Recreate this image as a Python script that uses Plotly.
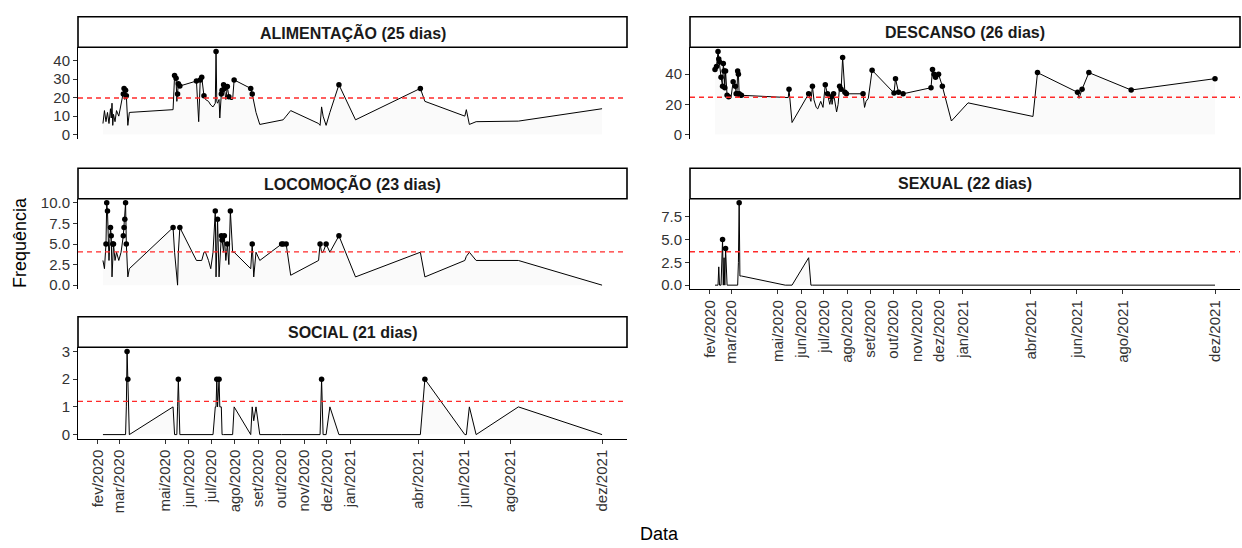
import pandas as pd
import plotly.graph_objects as go

# ---------------- data ----------------
datas = [
    "2020-02-08", "2020-02-10", "2020-02-12", "2020-02-13", "2020-02-14", "2020-02-16",
    "2020-02-18", "2020-02-19", "2020-02-20", "2020-02-21", "2020-02-22", "2020-02-24",
    "2020-02-26", "2020-02-29", "2020-03-03", "2020-03-06", "2020-03-07", "2020-03-08",
    "2020-03-09", "2020-03-10", "2020-03-11", "2020-03-12", "2020-03-14",
    "2020-05-11", "2020-05-13", "2020-05-15", "2020-05-16", "2020-05-17", "2020-05-18",
    "2020-05-20",
    "2020-06-11", "2020-06-14", "2020-06-16", "2020-06-18", "2020-06-21", "2020-06-23",
    "2020-06-27", "2020-06-30",
    "2020-07-03", "2020-07-06", "2020-07-07", "2020-07-08", "2020-07-09", "2020-07-11",
    "2020-07-12", "2020-07-14", "2020-07-15", "2020-07-17", "2020-07-18", "2020-07-20",
    "2020-07-22", "2020-07-24", "2020-07-26", "2020-07-29", "2020-07-31",
    "2020-08-22", "2020-08-24", "2020-08-26", "2020-08-29", "2020-09-03",
    "2020-10-02", "2020-10-04", "2020-10-08", "2020-10-14",
    "2020-11-20", "2020-11-22", "2020-11-24", "2020-11-26", "2020-11-30",
    "2020-12-05", "2020-12-17", "2021-01-08",
    "2021-04-04", "2021-04-10", "2021-06-02", "2021-06-04", "2021-06-08", "2021-06-17",
    "2021-08-12", "2021-12-01",
]

alimentacao = [
    6, 13, 7, 11, 12, 6, 14, 9, 17, 5, 11, 7, 13, 10, 16, 22, 25, 19, 24, 21, 15, 5, 12,
    13.5, 32, 30.5, 18, 22, 27.5, 26.3,
    29, 7, 29.5, 31, 21, 19, 18, 16,
    15, 17, 45, 18, 17, 19, 9, 22, 24, 27, 25, 19, 26, 20.5, 19, 19, 29.6,
    25, 22, 18, 12, 5.5,
    7.5, 8, 10, 13,
    6, 5, 15, 10, 5,
    12, 27, 8,
    25, 18, 10, 13.5, 5.5, 7,
    7.3, 14,
]

descanso = [
    43, 45, 55, 50, 48, 38, 32, 47, 42, 31, 42, 26, 25, 24, 35, 32, 27, 27, 42, 40, 27, 26, 26,
    24.5, 24.5, 24.5, 30, 24, 17, 8,
    27, 22, 32, 23, 18, 17, 22, 18,
    33, 27, 24, 22, 20, 25, 20, 27, 24, 18, 15, 20, 32, 30, 51, 28, 27,
    27, 18, 22, 24, 42.6,
    27.5, 37, 28, 27,
    31, 43, 40, 38, 40,
    32, 9, 21,
    12, 41, 28, 24, 30, 41,
    29.5, 37,
]

locomocao = [
    3, 2, 5, 10, 9, 3, 7, 6, 1, 5, 5, 3, 4, 3, 4, 6, 7, 8, 10, 5, 3, 1, 2,
    7, 4, 2, 1, 0, 4, 7,
    3, 3, 3, 3, 4, 4, 3, 2,
    4, 9, 1, 4, 8, 1, 3, 6, 5.5, 4, 6, 3, 5, 2.5, 9, 4, 4,
    2, 5, 1, 4, 3,
    5, 5, 5, 1.2,
    3, 5, 4, 4, 5,
    4, 6, 1,
    4, 1, 3, 3.5, 4, 3,
    3, 0,
]

sexual = [
    0, 0, 0, 2, 0, 0, 5, 0, 3, 0, 4, 0, 0, 0, 0, 0, 0, 0, 0, 2.5, 9, 1, 1,
    0, 0, 0, 0, 0, 0, 0,
    3, 0, 0, 0, 0, 0, 0, 0,
    0, 0, 0, 0, 0, 0, 0, 0, 0, 0, 0, 0, 0, 0, 0, 0, 0,
    0, 0, 0, 0, 0,
    0, 0, 0, 0,
    0, 0, 0, 0, 0,
    0, 0, 0,
    0, 0, 0, 0, 0, 0,
    0, 0,
]

social = [
    0, 0, 0, 0, 0, 0, 0, 0, 0, 0, 0, 0, 0, 0, 0, 0, 0, 0, 0, 1, 3, 2, 0,
    1, 0, 0, 0, 1, 2, 0,
    0, 0, 0, 0, 0, 0, 0, 0,
    0, 1, 1, 2, 1, 2, 1, 1, 0, 0, 0, 0, 0, 0, 0, 0, 1,
    0, 1, 0.5, 1, 0,
    0, 0, 0, 0,
    0, 0, 2, 0, 0,
    1, 0, 0,
    0, 2, 0, 0, 1, 0,
    1, 0,
]

comportamentos = ["ALIMENTAÇÃO", "DESCANSO", "LOCOMOÇÃO", "SEXUAL", "SOCIAL"]
series = [alimentacao, descanso, locomocao, sexual, social]
medias = [19.8, 24.7, 4.05, 3.65, 1.2]
dias = [25, 26, 23, 22, 21]

meses_pt = ["jan", "fev", "mar", "abr", "mai", "jun", "jul", "ago", "set", "out", "nov", "dez"]

# ---------------- layout geometry (pixels) ----------------
W, H = 1242, 548
COLS = {"L": (78, 627), "R": (690, 1240)}
ROWS = {1: (43, 136), 2: (197, 289), 3: (348, 441)}
STRIP_H = 31
# panel placement: (column, row, dtick, tickformat, show x axis)
placement = [
    ("L", 1, 10, None, False),
    ("R", 1, 20, None, False),
    ("L", 2, 2.5, ".1f", False),
    ("R", 2, 2.5, ".1f", True),
    ("L", 3, 1, None, True),
]

dates = pd.to_datetime(pd.Series(datas))
span = dates.max() - dates.min()
xrange = [dates.min() - 0.05 * span, dates.max() + 0.05 * span]
months = sorted(dates.dt.to_period("M").unique())
tickvals = [m.start_time for m in months]
ticktext = [f"{meses_pt[m.month - 1]}/{m.year}" for m in months]

FONT = "Liberation Sans, Arial, sans-serif"
TICK_SIZE = 15
fig = go.Figure()
layout = dict(
    width=W, height=H,
    margin=dict(l=0, r=0, t=0, b=0),
    paper_bgcolor="white", plot_bgcolor="white",
    showlegend=False,
    font=dict(family=FONT, color="#333333"),
)
shapes = []
annotations = []

for i, (nome, vals, media, nd, (col, row, dtick, fmt, showx)) in enumerate(
        zip(comportamentos, series, medias, dias, placement), start=1):
    xa = "x" if i == 1 else f"x{i}"
    ya = "y" if i == 1 else f"y{i}"
    x0, x1 = COLS[col]
    top, bot = ROWS[row]
    dom_x = [x0 / W, x1 / W]
    dom_y = [1 - bot / H, 1 - top / H]

    vmin, vmax = min(0, min(vals)), max(vals)
    vs = vmax - vmin
    yrange = [vmin - 0.05 * vs, vmax + 0.05 * vs]

    # area + line
    fig.add_trace(go.Scatter(
        x=dates, y=vals, mode="lines", xaxis=xa, yaxis=ya,
        line=dict(color="black", width=1),
        fill="tozeroy", fillcolor="rgba(0,0,0,0.02)",
        hoverinfo="skip",
    ))
    # points above the mean
    pts = [(d, v) for d, v in zip(dates, vals) if v > media]
    fig.add_trace(go.Scatter(
        x=[p[0] for p in pts], y=[p[1] for p in pts], mode="markers",
        xaxis=xa, yaxis=ya,
        marker=dict(color="black", size=5.5),
        hoverinfo="skip",
    ))
    # mean line
    shapes.append(dict(
        type="line", xref=f"{xa} domain", yref=ya, x0=0, x1=1, y0=media, y1=media,
        line=dict(color="#ff2a2a", width=1.3, dash="5px,4px"), layer="above",
    ))
    # strip
    shapes.append(dict(
        type="rect", xref="paper", yref="paper",
        x0=x0 / W, x1=x1 / W, y0=1 - top / H, y1=1 - (top - STRIP_H) / H,
        line=dict(color="black", width=1.6), fillcolor="white", layer="above",
    ))
    annotations.append(dict(
        xref="paper", yref="paper", x=(x0 + x1) / 2 / W, y=1 - (top - STRIP_H / 2) / H,
        text=f"<b>{nome} ({nd} dias)</b>", showarrow=False,
        font=dict(size=16, color="#1a1a1a", family=FONT),
        xanchor="center", yanchor="middle",
    ))

    xkey = "xaxis" if i == 1 else f"xaxis{i}"
    ykey = "yaxis" if i == 1 else f"yaxis{i}"
    layout[xkey] = dict(
        domain=dom_x, anchor=ya, type="date", range=xrange,
        showgrid=False, zeroline=False,
        showline=showx, linecolor="black", linewidth=1,
        ticks="outside" if showx else "", ticklen=4, tickcolor="#333333",
        tickmode="array", tickvals=tickvals, ticktext=ticktext,
        showticklabels=showx, tickangle=-90,
        tickfont=dict(size=TICK_SIZE, color="#333333"),
    )
    yax = dict(
        domain=dom_y, anchor=xa, range=yrange,
        showgrid=False, zeroline=False,
        showline=True, linecolor="black", linewidth=1,
        ticks="outside", ticklen=4, tickcolor="#333333",
        tick0=0, dtick=dtick,
        tickfont=dict(size=TICK_SIZE, color="#333333"),
    )
    if fmt:
        yax["tickformat"] = fmt
    layout[ykey] = yax

annotations.append(dict(
    xref="paper", yref="paper", x=20 / W, y=1 - 242 / H, text="Frequência",
    textangle=-90, showarrow=False, font=dict(size=18, color="black"),
    xanchor="center", yanchor="middle",
))
annotations.append(dict(
    xref="paper", yref="paper", x=659 / W, y=1 - 538 / H, text="Data",
    showarrow=False, font=dict(size=18, color="black"),
    xanchor="center", yanchor="middle",
))

layout["shapes"] = shapes
layout["annotations"] = annotations
fig.update_layout(**layout)
fig.write_html("out.html")
